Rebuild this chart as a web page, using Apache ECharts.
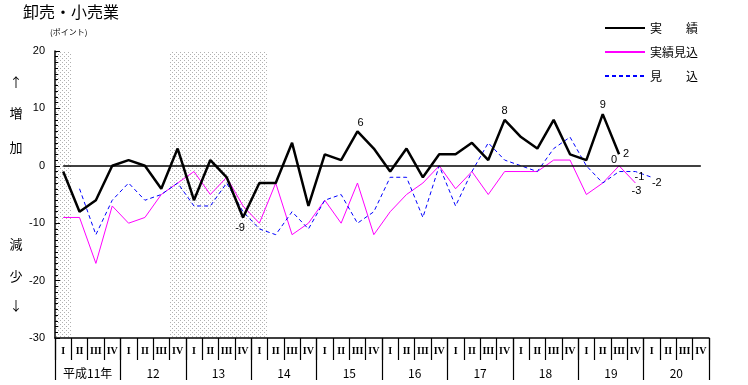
<!DOCTYPE html>
<html><head><meta charset="utf-8">
<script src="https://cdn.jsdelivr.net/npm/echarts@6/dist/echarts.min.js"></script>
<style>html,body{margin:0;padding:0;background:#fff}#c{width:748px;height:385px}</style>
</head><body><div id="c"></div>
<script>
// ---- data ----
const years = ['平成11年','12','13','14','15','16','17','18','19','20'];
const quarters = ['I','II','III','IV'];
const actual =      [-1,-8,-6,0,1,0,-4,3,-6,1,-2,-9,-3,-3,4,-7,2,1,6,3,-1,3,-2,2,2,4,1,8,5,3,8,2,1,9,2,null,null,null,null,null];
const estActual =   [-9,-9,-17,-7,-10,-9,-5,-3,-1,-5,-2,-7,-10,-3,-12,-10,-6,-10,-3,-12,-8,-5,-3,0,-4,-1,-5,-1,-1,-1,1,1,-5,-3,0,-3,null,null,null,null];
const forecast =    [null,-4,-12,-6,-3,-6,-5,-3,-7,-7,-3,-8,-11,-12,-8,-11,-6,-5,-10,-8,-2,-2,-9,0,-7,-1,4,1,0,-1,3,5,0,-3,-1,-1,-2,null,null,null];
const recessions = [[0,1],[7,13]];   // shaded quarter ranges [start, end)
const seriesNames = ['実　　績','実績見込','見　　込'];

// label placement for annotated points (index -> style)
const actualLabels = {11:{position:'bottom',distance:5,offset:[-3,0]},18:{position:'top',distance:3,offset:[3,0]},27:{position:'top',distance:3},33:{position:'top',distance:4},34:{position:'right',distance:4}};
const estLabels = {34:{position:'top',distance:0,offset:[-5,0]},35:{position:'bottom',distance:2,offset:[1,0]}};
const fcLabels = {35:{position:'bottom',distance:0,offset:[4,0]},36:{position:'bottom',distance:0,offset:[5,0]}};

const categories = [];
years.forEach((y,yi)=>quarters.forEach(q=>categories.push(yi+'-'+q)));

function mk(arr, labels){
  return arr.map((v,i)=>{
    if (v === null) return null;
    if (labels[i]) return {value:v, label:Object.assign({show:true, color:'#000', fontSize:11, fontFamily:'Liberation Sans'}, labels[i])};
    return v;
  });
}

// dotted pattern for shaded periods (transparent background)
const pc = document.createElement('canvas'); pc.width = 4; pc.height = 4;
const g = pc.getContext('2d');
g.fillStyle = '#b0b0b0'; g.fillRect(0,0,1,1); g.fillRect(2,2,1,1);

const chart = echarts.init(document.getElementById('c'));
const jp = 'Noto Sans CJK JP';
chart.setOption({
  animation:false,
  backgroundColor:'#fff',
  title:{text:'卸売・小売業', left:23, top:4, padding:0, textStyle:{fontSize:16, fontWeight:'normal', color:'#000', fontFamily:jp}},
  legend:{data:seriesNames, orient:'vertical', left:604, top:22, padding:0, itemWidth:40, itemHeight:12, itemGap:12,
    selectedMode:false, itemStyle:{opacity:0},
    textStyle:{fontSize:12, color:'#000', fontFamily:jp}},
  grid:{left:55, right:39, top:51, bottom:47, containLabel:false},
  graphic:[
    {type:'text', left:50, top:28, style:{text:'(ポイント)', fontSize:8, fill:'#000', fontFamily:jp}},
    {type:'text', x:16, y:82, style:{text:'↑', fontSize:13, fill:'#000', fontFamily:jp, textAlign:'center', textVerticalAlign:'middle'}},
    {type:'text', x:16, y:113, style:{text:'増', fontSize:13, fill:'#000', fontFamily:jp, textAlign:'center', textVerticalAlign:'middle'}},
    {type:'text', x:16, y:147, style:{text:'加', fontSize:13, fill:'#000', fontFamily:jp, textAlign:'center', textVerticalAlign:'middle'}},
    {type:'text', x:16, y:244, style:{text:'減', fontSize:13, fill:'#000', fontFamily:jp, textAlign:'center', textVerticalAlign:'middle'}},
    {type:'text', x:16, y:276, style:{text:'少', fontSize:13, fill:'#000', fontFamily:jp, textAlign:'center', textVerticalAlign:'middle'}},
    {type:'text', x:16, y:305, style:{text:'↓', fontSize:13, fill:'#000', fontFamily:jp, textAlign:'center', textVerticalAlign:'middle'}}
  ],
  xAxis:[
    {type:'category', data:categories, position:'bottom', boundaryGap:true, z:10,
     axisLine:{show:true, onZero:false, lineStyle:{color:'#000', width:1.5}},
     axisTick:{show:true, interval:0, length:22, lineStyle:{color:'#000', width:1.2}},
     axisLabel:{interval:0, margin:8, color:'#000', fontSize:10, fontFamily:'Liberation Serif', fontWeight:'bold', formatter:v=>v.split('-')[1]},
     splitLine:{show:false}},
    {type:'category', data:years, position:'bottom', boundaryGap:true, z:10,
     axisLine:{show:false, onZero:false},
     axisTick:{show:true, interval:0, length:42, lineStyle:{color:'#000', width:1.2}},
     axisLabel:{interval:0, margin:29, color:'#000', fontSize:12, fontFamily:jp},
     splitLine:{show:false}},
    {type:'value', min:0, max:categories.length, show:false, position:'top', axisLine:{onZero:false}}
  ],
  yAxis:{type:'value', min:-30, max:20, interval:10, z:10,
    axisLine:{show:true, onZero:false, lineStyle:{color:'#000', width:1.5}},
    axisTick:{show:true, inside:true, length:5, lineStyle:{color:'#000', width:1}},
    minorTick:{show:true, splitNumber:10, length:3, lineStyle:{color:'#000', width:1}},
    axisLabel:{color:'#000', fontSize:11, margin:10, fontFamily:'Liberation Sans'},
    splitLine:{show:false}},
  series:[
    {name:'shade', type:'line', xAxisIndex:2, data:[], silent:true, z:0,
     markArea:{silent:true, itemStyle:{color:{image:pc, repeat:'repeat'}, opacity:1},
       data:recessions.map(r=>[{xAxis:r[0]},{xAxis:r[1]}])}},
    {name:seriesNames[1], type:'line', data:mk(estActual, estLabels), symbol:'circle', symbolSize:0, showAllSymbol:true,
     lineStyle:{color:'#ff00ff', width:1}, itemStyle:{color:'#ff00ff'}, z:3},
    {name:seriesNames[2], type:'line', data:mk(forecast, fcLabels), symbol:'circle', symbolSize:0, showAllSymbol:true,
     lineStyle:{color:'#0000ff', width:1, type:[4,3]}, itemStyle:{color:'#0000ff'}, z:4},
    {name:seriesNames[0], type:'line', data:mk(actual, actualLabels), symbol:'circle', symbolSize:0, showAllSymbol:true,
     lineStyle:{color:'#000', width:2.5}, itemStyle:{color:'#000'}, z:5,
     markLine:{silent:true, symbol:'none', label:{show:false}, lineStyle:{color:'#000', width:1.5, type:'solid'},
       data:[[{xAxis:categories[0], yAxis:0},{xAxis:categories[categories.length-1], yAxis:0}]]}}
  ]
});
</script></body></html>
